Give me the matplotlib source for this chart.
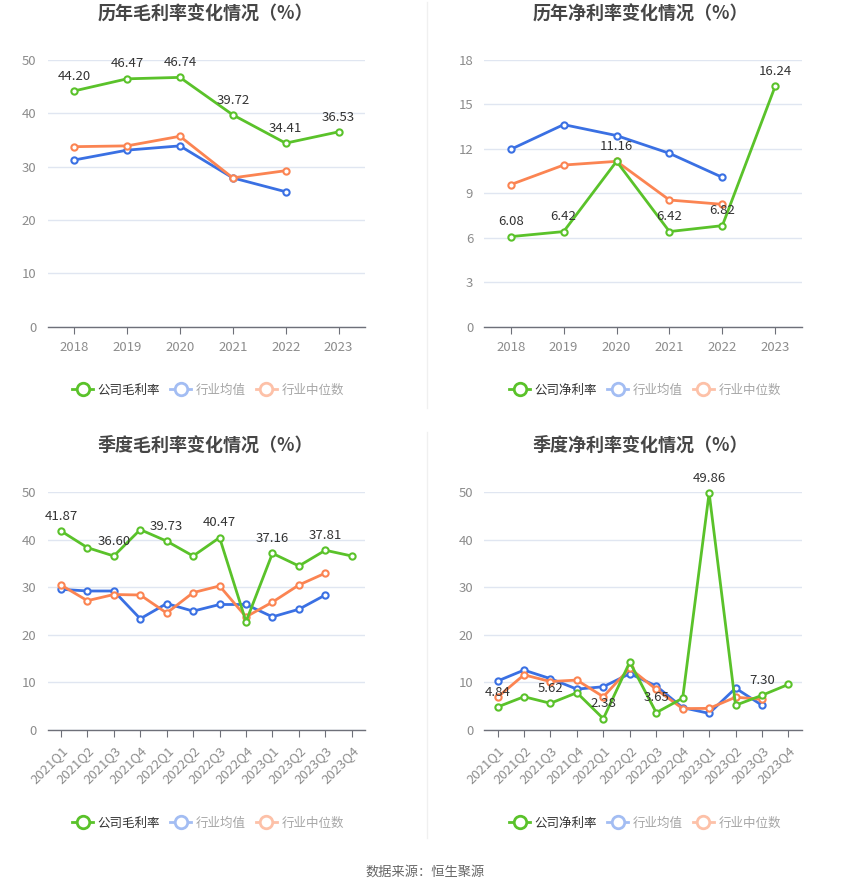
import matplotlib.pyplot as plt
from matplotlib.lines import Line2D

plt.rcParams['font.family'] = ['Noto Sans CJK SC', 'DejaVu Sans']

# ---------------- data ----------------
years = ["2018", "2019", "2020", "2021", "2022", "2023"]
gross_company = [44.20, 46.47, 46.74, 39.72, 34.41, 36.53]
gross_avg = [31.25, 33.1, 33.9, 27.9, 25.3]
gross_median = [33.75, 33.9, 35.7, 27.9, 29.25]

net_company = [6.08, 6.42, 11.16, 6.42, 6.82, 16.24]
net_avg = [11.97, 13.64, 12.9, 11.7, 10.08]
net_median = [9.59, 10.91, 11.16, 8.55, 8.26]

quarters = ["2021Q1", "2021Q2", "2021Q3", "2021Q4", "2022Q1", "2022Q2",
            "2022Q3", "2022Q4", "2023Q1", "2023Q2", "2023Q3", "2023Q4"]
q_gross_company = [41.87, 38.36, 36.60, 42.15, 39.73, 36.6, 40.47, 22.8, 37.16, 34.5, 37.81, 36.6]
q_gross_avg = [29.6, 29.24, 29.24, 23.4, 26.6, 25.0, 26.4, 26.4, 23.8, 25.4, 28.4]
q_gross_median = [30.5, 27.2, 28.5, 28.4, 24.6, 28.9, 30.3, 23.8, 26.9, 30.5, 33.0]

q_net_company = [4.84, 7.0, 5.62, 7.85, 2.38, 14.3, 3.65, 6.7, 49.86, 5.2, 7.30, 9.6]
q_net_avg = [10.3, 12.6, 10.8, 8.6, 9.1, 11.85, 9.26, 4.7, 3.5, 8.8, 5.2]
q_net_median = [6.9, 11.6, 10.2, 10.5, 7.0, 13.0, 8.55, 4.5, 4.55, 6.9, 6.45]

GREEN = '#5ac22a'
BLUE = '#3a70e3'
ORANGE = '#fb8452'
GRID = '#e0e6f1'
AXIS = '#6e7079'
TICK_TXT = '#8c8c8c'


def draw_panel(ax, cats, company, avg, median, ymax, ystep, label_every, rotate):
    n = len(cats)
    xs = list(range(n))
    ax.set_xlim(-0.5, n - 0.5)
    ax.set_ylim(0, ymax)
    ax.set_yticks(range(0, ymax + 1, ystep))
    ax.yaxis.grid(True, color=GRID, lw=1)
    ax.set_axisbelow(True)
    for s in ['top', 'right', 'left']:
        ax.spines[s].set_visible(False)
    ax.spines['bottom'].set_color(AXIS)
    ax.spines['bottom'].set_linewidth(1)
    ax.tick_params(axis='y', length=0, pad=8, labelsize=9.5, labelcolor=TICK_TXT)
    ax.tick_params(axis='x', length=5, color=AXIS, pad=5, labelsize=9.5, labelcolor=TICK_TXT)
    ax.set_xticks(xs)
    if rotate:
        ax.set_xticklabels(cats, rotation=45, ha='right', rotation_mode='anchor')
    else:
        ax.set_xticklabels(cats)

    style = dict(lw=2, marker='o', ms=4.5, mfc='white', mew=1.5, clip_on=False)
    ax.plot(range(len(avg)), avg, color=BLUE, zorder=3, **style)
    ax.plot(range(len(median)), median, color=ORANGE, zorder=3, **style)
    ax.plot(xs, company, color=GREEN, zorder=4, **style)

    for i, v in enumerate(company):
        if i % label_every == 0:
            ax.annotate(f"{v:.2f}", (i, v), xytext=(0, 6), textcoords='offset points',
                        ha='center', va='bottom', fontsize=9.5, color='#333333', zorder=5)


def add_legend(fig, x, y, first_label):
    handles = [
        Line2D([], [], color=GREEN, lw=2, marker='o', ms=9, mfc='white', mew=2),
        Line2D([], [], color='#a3bdf3', lw=2, marker='o', ms=9, mfc='white', mew=2),
        Line2D([], [], color='#fdc1a8', lw=2, marker='o', ms=9, mfc='white', mew=2),
    ]
    leg = fig.legend(handles, [first_label, '行业均值', '行业中位数'], loc='center',
                     bbox_to_anchor=(x, y), ncol=3, frameon=False, fontsize=9,
                     handlelength=1.7, handletextpad=0.35, columnspacing=0.8)
    cols = ['#333333', '#a6a6a6', '#a6a6a6']
    for t, c in zip(leg.get_texts(), cols):
        t.set_color(c)


fig = plt.figure(figsize=(8.5, 8.9), dpi=100)
W, H = 850, 890

def pos(left, right, top, bottom):
    return [left / W, 1 - bottom / H, (right - left) / W, (bottom - top) / H]

ax1 = fig.add_axes(pos(47.7, 365, 60, 326.7))
ax2 = fig.add_axes(pos(484.3, 801.7, 60, 326.7))
ax3 = fig.add_axes(pos(47.7, 365, 492.3, 730))
ax4 = fig.add_axes(pos(484.3, 801.7, 492.3, 730))

draw_panel(ax1, years, gross_company, gross_avg, gross_median, 50, 10, 1, False)
draw_panel(ax2, years, net_company, net_avg, net_median, 18, 3, 1, False)
draw_panel(ax3, quarters, q_gross_company, q_gross_avg, q_gross_median, 50, 10, 2, True)
draw_panel(ax4, quarters, q_net_company, q_net_avg, q_net_median, 50, 10, 2, True)

title_kw = dict(ha='center', va='center', fontsize=13, fontweight='bold', color='#464646')
fig.text(205 / W, 1 - 14 / H, '历年毛利率变化情况（%）', **title_kw)
fig.text(640 / W, 1 - 14 / H, '历年净利率变化情况（%）', **title_kw)
fig.text(205 / W, 1 - 445 / H, '季度毛利率变化情况（%）', **title_kw)
fig.text(640 / W, 1 - 445 / H, '季度净利率变化情况（%）', **title_kw)

add_legend(fig, 208 / W, 1 - 390 / H, '公司毛利率')
add_legend(fig, 645 / W, 1 - 390 / H, '公司净利率')
add_legend(fig, 208 / W, 1 - 823 / H, '公司毛利率')
add_legend(fig, 645 / W, 1 - 823 / H, '公司净利率')

# faint panel separators
fig.add_artist(Line2D([427 / W, 427 / W], [1 - 2 / H, 1 - 408 / H], color='#f0f0f0', lw=1))
fig.add_artist(Line2D([427 / W, 427 / W], [1 - 432 / H, 1 - 838 / H], color='#f0f0f0', lw=1))

fig.text(425 / W, 1 - 872 / H, '数据来源：恒生聚源', ha='center', va='center',
         fontsize=9.5, color='#666666')

fig.savefig('out.png', dpi=100)
